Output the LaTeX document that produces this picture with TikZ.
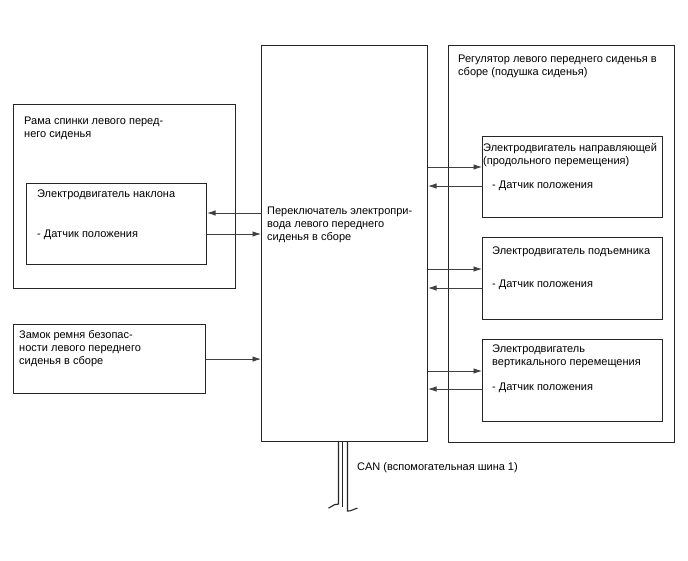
\documentclass[tikz,border=0pt]{standalone}
\usepackage{fontspec}
\setmainfont{Liberation Sans}
\usetikzlibrary{arrows.meta,positioning,calc}
\tikzset{
  box/.style 2 args={draw=black!85, line width=1.1pt, anchor=north west, inner sep=0pt, minimum width=#1, minimum height=#2},
  txt/.style={font=\fontsize{11}{13}\selectfont, align=left, inner sep=0pt, anchor=north west},
  arr/.style={-{Latex[length=8.5pt,width=5.5pt]}, draw=black!75, line width=0.8pt},
  wire/.style={draw=black!85, line width=1.1pt}}

\begin{document}
\begin{tikzpicture}[x=1pt, y=-1pt]
  \useasboundingbox (0,0) rectangle (688,560);
  % boxes
  \node[box={222pt}{184pt}] (rama) at (13,104) {};
  \node[box={180pt}{81pt}] (naklon) at (26,183) {};
  \node[box={192pt}{69pt}] (zamok) at (13,324) {};
  \node[box={166pt}{396pt}] (ctrl) at (261,45) {};
  \node[box={226pt}{397pt}] (reg) at (448,45) {};
  \node[box={180pt}{81pt}] (m1) at (482,136) {};
  \node[box={180pt}{82pt}] (m2) at (482,237) {};
  \node[box={180pt}{82pt}] (m3) at (482,339) {};
  % texts
  \node[txt, below right=13pt and 11pt of rama.north west] (ramat) {Рама спинки левого перед-\\него сиденья};
  \node[txt, below right=7pt and 11pt of naklon.north west] (naklont) {Электродвигатель наклона};
  \node[txt, below right=47pt and 11pt of naklon.north west] (naklons) {- Датчик положения};
  \node[txt, below right=6pt and 6pt of zamok.north west] (zamokt) {Замок ремня безопас-\\ности левого переднего\\сиденья в сборе};
  \node[txt, below right=161.5pt and 6pt of ctrl.north west] (ctrlt) {Переключатель электропри-\\вода левого переднего\\сиденья в сборе};
  \node[txt, below right=9.5pt and 10pt of reg.north west] (regt) {Регулятор левого переднего сиденья в\\сборе (подушка сиденья)};
  \node[txt, below right=7pt and 1pt of m1.north west] (m1t) {Электродвигатель направляющей\\(продольного перемещения)};
  \node[txt, below right=45pt and 10pt of m1.north west] (m1s) {- Датчик положения};
  \node[txt, below right=10pt and 10pt of m2.north west] (m2t) {Электродвигатель подъемника};
  \node[txt, below right=43pt and 10pt of m2.north west] (m2s) {- Датчик положения};
  \node[txt, below right=6pt and 10pt of m3.north west] (m3t) {Электродвигатель\\вертикального перемещения};
  \node[txt, below right=44pt and 10pt of m3.north west] (m3s) {- Датчик положения};
  % arrow ends
  \path (naklon.north east) ++(0,30) coordinate (nk1) ++(0,21) coordinate (nk2);
  \path (m1.north west) ++(0,31) coordinate (m1a) ++(0,19) coordinate (m1b);
  \path (m2.north west) ++(0,32) coordinate (m2a) ++(0,19) coordinate (m2b);
  \path (m3.north west) ++(0,32) coordinate (m3a) ++(0,18) coordinate (m3b);
  % arrows
  \draw[arr] (ctrl.west |- nk1) -- (nk1);
  \draw[arr] (nk2) -- (ctrl.west |- nk2);
  \draw[arr] (zamok) -- (ctrl.west |- zamok);
  \draw[arr] (ctrl.east |- m1a) -- (m1a);
  \draw[arr] (m1b) -- (ctrl.east |- m1b);
  \draw[arr] (ctrl.east |- m2a) -- (m2a);
  \draw[arr] (m2b) -- (ctrl.east |- m2b);
  \draw[arr] (ctrl.east |- m3a) -- (m3a);
  \draw[arr] (m3b) -- (ctrl.east |- m3b);
  % CAN bus
  \coordinate (can) at (ctrl.south -| 342.5,0);
  \draw[wire] ([xshift=-4pt]can) -- ++(0,62) .. controls ++(-3,-1) and ++(6,-3) .. ++(-10,4);
  \draw[wire] (can) -- ++(0,65);
  \draw[wire] ([xshift=5pt]can) -- ++(0,69) .. controls ++(4,0) and ++(-4,1) .. ++(10,-3);
  \node[txt, anchor=west] (cant) at (357,468) {CAN (вспомогательная шина 1)};
\end{tikzpicture}
\end{document}
